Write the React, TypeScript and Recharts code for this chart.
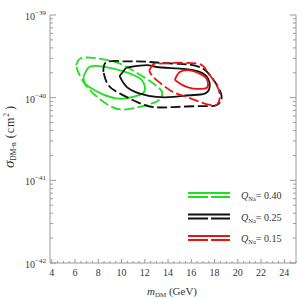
import { LineChart, Line, XAxis, YAxis, Legend } from "recharts";

// contour points: m_DM in GeV, sigma in cm^2
const greenDashM = [6.10, 6.44, 7.30, 8.44, 9.87, 11.33, 12.44, 13.21, 13.51, 13.30, 12.70, 11.33, 9.87, 8.44, 7.02, 6.27, 6.10];
const greenDashS = [2.47e-40, 2.96e-40, 3.05e-40, 2.91e-40, 2.58e-40, 1.99e-40, 1.59e-40, 1.31e-40, 1.14e-40, 9.6e-41, 8.6e-41, 7.6e-41, 7.2e-41, 8.9e-41, 1.36e-40, 2.05e-40, 2.47e-40];

const greenSolidM = [6.72, 7.15, 7.87, 9.30, 10.73, 11.73, 12.01, 11.87, 10.98, 9.87, 8.44, 7.44, 6.87, 6.72];
const greenSolidS = [1.78e-40, 2.31e-40, 2.42e-40, 2.24e-40, 1.95e-40, 1.64e-40, 1.35e-40, 1.14e-40, 1.02e-40, 9.7e-41, 1.09e-40, 1.29e-40, 1.48e-40, 1.78e-40];

const blackDashM = [8.44, 8.73, 10.15, 11.30, 12.44, 14.41, 15.87, 17.01, 17.73, 18.35, 18.61, 18.16, 16.87, 14.44, 12.72, 11.30, 9.87, 8.87, 8.44];
const blackDashS = [2.05e-40, 2.70e-40, 2.75e-40, 2.75e-40, 2.70e-40, 2.58e-40, 2.51e-40, 2.24e-40, 1.78e-40, 1.31e-40, 9.9e-41, 8.1e-41, 7.9e-41, 7.7e-41, 7.7e-41, 8.9e-41, 1.12e-40, 1.41e-40, 2.05e-40];

const blackSolidM = [9.83, 10.30, 10.73, 12.16, 13.01, 15.01, 16.72, 17.44, 17.58, 17.15, 15.87, 14.44, 13.01, 11.58, 10.44, 9.83];
const blackSolidS = [1.83e-40, 2.22e-40, 2.35e-40, 2.47e-40, 2.35e-40, 2.24e-40, 2.05e-40, 1.70e-40, 1.35e-40, 1.12e-40, 1.07e-40, 1.02e-40, 1.02e-40, 1.12e-40, 1.35e-40, 1.83e-40];

const redDashM = [12.38, 12.70, 13.01, 14.44, 16.58, 17.30, 18.01, 18.44, 18.29, 17.73, 16.72, 15.59, 14.44, 13.58, 12.72, 12.38];
const redDashS = [2.14e-40, 2.52e-40, 2.58e-40, 2.63e-40, 2.58e-40, 2.14e-40, 1.55e-40, 1.12e-40, 8.5e-41, 8.1e-41, 8.9e-41, 1.02e-40, 1.17e-40, 1.41e-40, 1.78e-40, 2.14e-40];

const redSolidM = [14.58, 15.01, 15.87, 16.72, 17.30, 17.44, 17.15, 16.15, 15.29, 14.58];
const redSolidS = [1.64e-40, 2.05e-40, 2.14e-40, 1.95e-40, 1.70e-40, 1.41e-40, 1.29e-40, 1.29e-40, 1.41e-40, 1.64e-40];

const qValues = ["0.40", "0.25", "0.15"];
const colors = ["#1fe01f", "#111111", "#ee1111"];

const xMajorTicks = [4, 6, 8, 10, 12, 14, 16, 18, 20, 22, 24];
const decades = [-42, -41, -40, -39];

const xTicks: number[] = [];
for (let v = 4; v <= 25; v += 0.5) xTicks.push(v);
const yTicks: number[] = [];
decades.forEach((d) => {
  for (let k = 1; k <= 9; k++) {
    if (d === -39 && k > 1) break;
    yTicks.push(k * Math.pow(10, d));
  }
});

const zip = (m: number[], s: number[]) => m.map((v, i) => ({ m: v, s: s[i] }));

const contours = [
  { key: "g-dash", data: zip(greenDashM, greenDashS), color: colors[0], dashed: true },
  { key: "g-solid", data: zip(greenSolidM, greenSolidS), color: colors[0], dashed: false },
  { key: "k-dash", data: zip(blackDashM, blackDashS), color: colors[1], dashed: true },
  { key: "k-solid", data: zip(blackSolidM, blackSolidS), color: colors[1], dashed: false },
  { key: "r-dash", data: zip(redDashM, redDashS), color: colors[2], dashed: true },
  { key: "r-solid", data: zip(redSolidM, redSolidS), color: colors[2], dashed: false },
];

const AXIS = "#9a9a9a";
const FONT = "'Liberation Serif', 'DejaVu Serif', serif";

function XTick(props: any) {
  const { x, y, payload, side } = props;
  const v = payload.value;
  const major = xMajorTicks.includes(v);
  const dir = side === "bottom" ? -1 : 1;
  return (
    <g>
      <line x1={x} y1={y} x2={x} y2={y + dir * (major ? 4 : 2)} stroke={AXIS} strokeWidth={1} />
      {side === "bottom" && major && (
        <text x={x} y={y + 13} textAnchor="middle" fontSize={10} fontFamily={FONT} fill="#333">
          {v}
        </text>
      )}
    </g>
  );
}

function YTick(props: any) {
  const { x, y, payload, side } = props;
  const v = payload.value;
  const exp = Math.round(Math.log10(v));
  const major = Math.abs(v / Math.pow(10, exp) - 1) < 1e-6;
  const dir = side === "left" ? 1 : -1;
  return (
    <g>
      <line x1={x} y1={y} x2={x + dir * (major ? 6 : 3)} y2={y} stroke={AXIS} strokeWidth={1} />
      {side === "left" && major && (
        <text x={x - 4} y={y + 5} textAnchor="end" fontSize={10} fontFamily={FONT} fill="#333">
          <tspan>10</tspan>
          <tspan dy={-5} fontSize={7}>{"\u2212" + Math.abs(exp)}</tspan>
        </text>
      )}
    </g>
  );
}

function XTitle() {
  return (
    <text x={172} y={295} textAnchor="middle" fontSize={11} fontFamily={FONT} fill="#333">
      <tspan fontStyle="italic">m</tspan>
      <tspan fontSize={7} dy={2}>DM</tspan>
      <tspan dy={-2}>{" (GeV)"}</tspan>
    </text>
  );
}

function YTitle() {
  return (
    <text
      x={14}
      y={137}
      transform="rotate(-90, 14, 137)"
      textAnchor="middle"
      fontSize={12}
      fontFamily={FONT}
      fill="#333"
    >
      <tspan fontStyle="italic" fontSize={15}>σ</tspan>
      <tspan fontSize={7.5} dy={2}>DM-n</tspan>
      <tspan dy={-2} letterSpacing={1}>{"  (cm"}</tspan>
      <tspan fontSize={7.5} dy={-5}>2</tspan>
      <tspan dy={5}>{" )"}</tspan>
    </text>
  );
}

function LegendBox() {
  return (
    <svg width={110} height={64} style={{ display: "block" }}>
      {qValues.map((q, i) => {
        const top = 7 + i * 21.5;
        return (
          <g key={q}>
            <line x1={2} x2={44} y1={top} y2={top} stroke={colors[i]} strokeWidth={1.8} />
            <line x1={2} x2={44} y1={top + 4} y2={top + 4} stroke={colors[i]} strokeWidth={1.8} strokeDasharray="20 3" />
            <text x={55} y={top + 6} fontSize={10} fontFamily={FONT} fill="#333">
              <tspan fontStyle="italic">Q</tspan>
              <tspan fontSize={6.5} dy={2}>Na</tspan>
              <tspan dy={-2}>{"= " + q}</tspan>
            </text>
          </g>
        );
      })}
    </svg>
  );
}

export default function App() {
  return (
    <div style={{ position: "absolute", left: 0, top: 0, width: 299, height: 299, background: "#fff" }}>
      <LineChart width={299} height={299} margin={{ top: 15, right: 0, bottom: 0, left: 0 }}>
        <XAxis
          type="number"
          dataKey="m"
          domain={[3.85, 25]}
          allowDataOverflow
          ticks={xTicks}
          interval={0}
          height={36}
          tickSize={0}
          tickMargin={0}
          tickLine={false}
          axisLine={{ stroke: AXIS }}
          tick={<XTick side="bottom" />}
          label={<XTitle />}
        />
        <XAxis
          xAxisId="t"
          orientation="top"
          type="number"
          dataKey="m"
          domain={[3.85, 25]}
          allowDataOverflow
          ticks={xTicks}
          interval={0}
          height={0}
          tickSize={0}
          tickMargin={0}
          tickLine={false}
          axisLine={{ stroke: AXIS }}
          tick={<XTick side="top" />}
        />
        <YAxis
          type="number"
          dataKey="s"
          scale="log"
          domain={[1e-42, 1e-39]}
          allowDataOverflow
          ticks={yTicks}
          interval={0}
          width={50}
          tickSize={0}
          tickMargin={0}
          tickLine={false}
          axisLine={{ stroke: AXIS }}
          tick={<YTick side="left" />}
          label={<YTitle />}
        />
        <YAxis
          yAxisId="r"
          orientation="right"
          type="number"
          dataKey="s"
          scale="log"
          domain={[1e-42, 1e-39]}
          allowDataOverflow
          ticks={yTicks}
          interval={0}
          width={3}
          tickSize={0}
          tickMargin={0}
          tickLine={false}
          axisLine={{ stroke: AXIS }}
          tick={<YTick side="right" />}
        />
        {contours.map((c) => (
          <Line
            key={c.key}
            data={c.data}
            dataKey="s"
            type="natural"
            stroke={c.color}
            strokeWidth={1.8}
            strokeDasharray={c.dashed ? "10 3.5" : undefined}
            dot={false}
            activeDot={false}
            isAnimationActive={false}
          />
        ))}
        <Legend
          layout="vertical"
          align="center"
          verticalAlign="middle"
          wrapperStyle={{ left: 186, top: 186, width: 110, margin: 0 }}
          content={() => <LegendBox />}
        />
      </LineChart>
    </div>
  );
}
